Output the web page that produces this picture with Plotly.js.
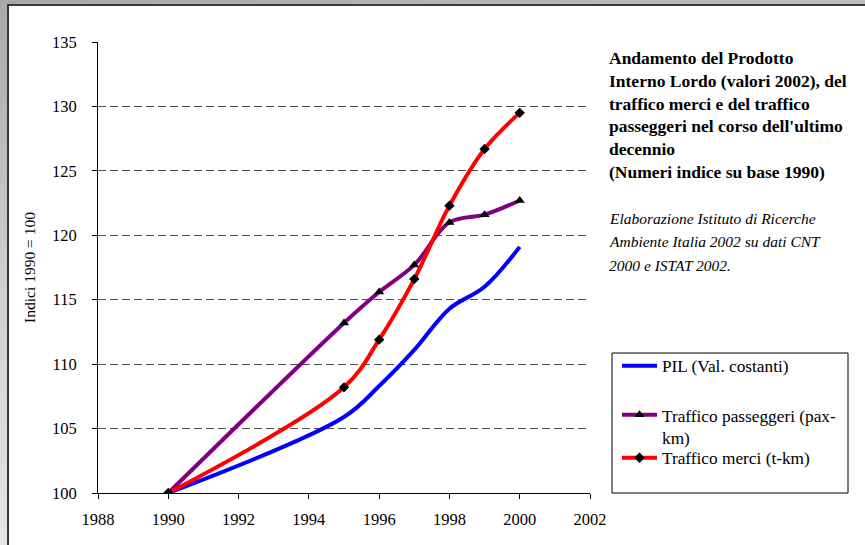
<!DOCTYPE html>
<html>
<head>
<meta charset="utf-8">
<script src="https://cdn.plot.ly/plotly-3.0.1.min.js"></script>
<style>
  html, body { margin: 0; padding: 0; width: 865px; height: 545px; overflow: hidden; }
  body { background: linear-gradient(170deg, #a8a8a8 0%, #cfcfcf 40%, #f2f2f2 100%); }
  #frame { position: absolute; left: 7px; top: 4px; border-left: 2px solid #3a3a3a; border-top: 2px solid #3a3a3a; background: #fff; }
  #chart { width: 856px; height: 539px; }
</style>
</head>
<body>
<div id="frame"><div id="chart"></div></div>
<script>
// ---- data ----
var years = [1990, 1995, 1996, 1997, 1998, 1999, 2000];
var pil = [100, 105.9, 108.3, 111.1, 114.3, 116.0, 119.1];
var passeggeri = [100, 113.2, 115.6, 117.7, 121.0, 121.6, 122.7];
var merci = [100, 108.2, 111.9, 116.6, 122.3, 126.7, 129.5];
var seriesNames = ["PIL (Val. costanti)", "Traffico passeggeri (pax-<br>km)", "Traffico merci (t-km)"];
var xTicks = [1988, 1990, 1992, 1994, 1996, 1998, 2000, 2002];
var yTicks = [100, 105, 110, 115, 120, 125, 130, 135];
var titleLines = ["Andamento del Prodotto", "Interno Lordo (valori 2002), del", "traffico merci e del traffico",
                  "passeggeri nel corso dell'ultimo", "decennio", "(Numeri indice su base 1990)"];
var sourceLines = ["Elaborazione Istituto di Ricerche", "Ambiente Italia 2002 su dati CNT", "2000 e ISTAT 2002."];

// ---- layout geometry ----
var OX = 9, OY = 6;             // page offset of the chart div
var L = 89, R = 275, T = 36, B = 52, WD = 856, HT = 539;
var PW = WD - L - R, PH = HT - T - B;
function px(X) { return (X - OX - L) / PW; }      // page x -> paper
function py(Y) { return 1 - (Y - OY - T) / PH; }  // page y -> paper

var FONT = "'Liberation Serif', 'Times New Roman', Times, serif";

var traces = [
  { x: years, y: pil, name: seriesNames[0], type: "scatter", mode: "lines",
    line: { color: "#0000ff", width: 4, shape: "spline", smoothing: 1 }, legend: "legend" },
  { x: years, y: passeggeri, name: seriesNames[1], type: "scatter", mode: "lines+markers",
    line: { color: "#800080", width: 4, shape: "spline", smoothing: 1 },
    marker: { symbol: "triangle-up", size: 9, color: "#000" }, legend: "legend2" },
  { x: years, y: merci, name: seriesNames[2], type: "scatter", mode: "lines+markers",
    line: { color: "#ff0000", width: 4, shape: "spline", smoothing: 1 },
    marker: { symbol: "diamond", size: 8, color: "#000" }, legend: "legend3" }
];

var legendBase = { xanchor: "left", bgcolor: "rgba(0,0,0,0)", borderwidth: 0, itemwidth: 35,
  font: { family: FONT, size: 17.3, color: "#000" }, itemclick: false };

var annotations = [{
  xref: "paper", yref: "paper", x: px(607), y: py(115), xanchor: "left", yanchor: "middle",
  align: "left", showarrow: false, text: "<b>" + titleLines.join("<br>") + "</b>",
  font: { family: FONT, size: 17.5, color: "#000" }
}];
var srcY = [218, 241.5, 265];
sourceLines.forEach(function (s, i) {
  annotations.push({ xref: "paper", yref: "paper", x: px(607), y: py(srcY[i]), xanchor: "left", yanchor: "middle",
    align: "left", showarrow: false, text: "<i>" + s + "</i>",
    font: { family: FONT, size: 15.5, color: "#000" } });
});

var layout = {
  width: WD, height: HT,
  margin: { l: L, r: R, t: T, b: B, pad: 0 },
  paper_bgcolor: "#ffffff", plot_bgcolor: "#ffffff",
  font: { family: FONT, color: "#000" },
  showlegend: true,
  xaxis: {
    range: [1988, 2002], tickvals: xTicks, ticktext: xTicks.map(String),
    ticks: "outside", ticklen: 5, tickcolor: "#000", tickwidth: 1,
    showline: true, linecolor: "#000", linewidth: 1,
    showgrid: false, zeroline: false, ticklabelstandoff: 6,
    tickfont: { family: FONT, size: 16.5, color: "#000" }
  },
  yaxis: {
    range: [100, 135], tickvals: yTicks, ticktext: yTicks.map(String),
    ticks: "outside", ticklen: 5, tickcolor: "#000", tickwidth: 1,
    showline: true, linecolor: "#000", linewidth: 1,
    showgrid: true, gridcolor: "#505050", gridwidth: 1, griddash: "8px,4px",
    zeroline: false, ticklabelstandoff: 12,
    tickfont: { family: FONT, size: 16.5, color: "#000" },
    title: { text: "Indici 1990 = 100", font: { family: FONT, size: 15.5, color: "#000" }, standoff: 12 }
  },
  legend: Object.assign({}, legendBase, { x: px(617), y: py(366), yanchor: "middle" }),
  legend2: Object.assign({}, legendBase, { x: px(617), y: py(426), yanchor: "middle", valign: "top" }),
  legend3: Object.assign({}, legendBase, { x: px(617), y: py(458), yanchor: "middle" }),
  shapes: [{
    type: "rect", xref: "paper", yref: "paper",
    x0: px(612), x1: px(848), y0: py(353), y1: py(493),
    line: { color: "#000", width: 1 }, fillcolor: "rgba(0,0,0,0)", layer: "below"
  }],
  annotations: annotations
};

Plotly.newPlot("chart", traces, layout, { displayModeBar: false, staticPlot: true });
</script>
</body>
</html>
